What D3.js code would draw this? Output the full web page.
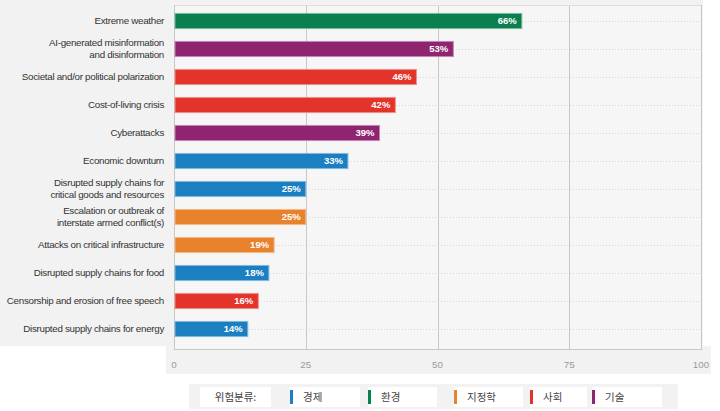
<!DOCTYPE html>
<html>
<head>
<meta charset="utf-8">
<script src="https://cdn.jsdelivr.net/npm/d3@7/dist/d3.min.js"></script>
<style>
  html, body { margin: 0; padding: 0; background: #ffffff; }
  svg { display: block; }
</style>
</head>
<body>
<svg id="chart" width="720" height="411"></svg>
<script>
// ---- data ----
const categories = [
  "Extreme weather",
  "AI-generated misinformation\nand disinformation",
  "Societal and/or political polarization",
  "Cost-of-living crisis",
  "Cyberattacks",
  "Economic downturn",
  "Disrupted supply chains for\ncritical goods and resources",
  "Escalation or outbreak of\ninterstate armed conflict(s)",
  "Attacks on critical infrastructure",
  "Disrupted supply chains for food",
  "Censorship and erosion of free speech",
  "Disrupted supply chains for energy"
];
const values = [66, 53, 46, 42, 39, 33, 25, 25, 19, 18, 16, 14];
const groups = ["환경", "기술", "사회", "사회", "기술", "경제", "경제", "지정학", "지정학", "경제", "사회", "경제"];
const legendTitle = "위험분류:";
const legendLabels = ["경제", "환경", "지정학", "사회", "기술"];
const tickValues = [0, 25, 50, 75, 100];

// ---- styles ----
const groupColors = {
  "경제": "#1b7fc1",
  "환경": "#0b7f4f",
  "지정학": "#e8822d",
  "사회": "#e3342b",
  "기술": "#8f2470"
};
const latinFont = "'Liberation Sans', Arial, Helvetica, sans-serif";
const cjkFont = "'Noto Sans CJK KR', 'Liberation Sans', sans-serif";

const svg = d3.select("#chart");

// backgrounds
svg.append("rect").attr("x", 0).attr("y", 0).attr("width", 703).attr("height", 346).attr("fill", "#f2f2f2");
svg.append("rect").attr("x", 166).attr("y", 346).attr("width", 545).attr("height", 28).attr("fill", "#f2f2f2");

const plot = { left: 174, right: 701, top: 5, bottom: 350 };

const x = d3.scaleLinear().domain([0, 100]).range([plot.left, plot.right]);
const y = d3.scaleBand().domain(d3.range(categories.length)).range([7, 343]).paddingInner(0.46).paddingOuter(0.23);

// plot interior
svg.append("rect")
  .attr("x", plot.left).attr("y", plot.top)
  .attr("width", plot.right - plot.left).attr("height", plot.bottom - plot.top)
  .attr("fill", "#f6f6f6");

// dotted horizontal guides
svg.append("g").selectAll("line")
  .data(d3.range(categories.length))
  .join("line")
  .attr("x1", plot.left).attr("x2", plot.right)
  .attr("y1", i => y(i) + y.bandwidth() / 2 + 0.5)
  .attr("y2", i => y(i) + y.bandwidth() / 2 + 0.5)
  .attr("stroke", "#d6d6d6").attr("stroke-width", 1).attr("stroke-dasharray", "1,2");

// vertical grid lines
svg.append("g").selectAll("line")
  .data(tickValues.slice(1))
  .join("line")
  .attr("x1", d => Math.round(x(d)) + 0.5).attr("x2", d => Math.round(x(d)) + 0.5)
  .attr("y1", plot.top).attr("y2", plot.bottom)
  .attr("stroke", "#c8c8c8").attr("stroke-width", 1);

// frame: top, left and bottom
svg.append("line").attr("x1", plot.left).attr("x2", plot.right).attr("y1", plot.top + 0.5).attr("y2", plot.top + 0.5).attr("stroke", "#dedede");
svg.append("line").attr("x1", plot.left + 0.5).attr("x2", plot.left + 0.5).attr("y1", plot.top).attr("y2", plot.bottom).attr("stroke", "#c8c8c8");
svg.append("line").attr("x1", plot.left).attr("x2", plot.right + 1).attr("y1", plot.bottom - 0.5).attr("y2", plot.bottom - 0.5).attr("stroke", "#c8c8c8");

// bars
svg.append("g").selectAll("rect")
  .data(values)
  .join("rect")
  .attr("x", x(0) + 1)
  .attr("y", (d, i) => y(i))
  .attr("width", d => x(d) - x(0) - 1)
  .attr("height", y.bandwidth())
  .attr("fill", (d, i) => groupColors[groups[i]])
  .attr("stroke", (d, i) => d3.interpolateRgb(groupColors[groups[i]], "#ffffff")(0.45))
  .attr("stroke-width", 1);

// value labels
svg.append("g").selectAll("text")
  .data(values)
  .join("text")
  .attr("x", d => x(d) - 5)
  .attr("y", (d, i) => y(i) + y.bandwidth() / 2)
  .attr("dy", "0.35em")
  .attr("text-anchor", "end")
  .attr("font-family", latinFont)
  .attr("font-weight", "bold")
  .attr("font-size", "9.5px")
  .attr("fill", "#ffffff")
  .text(d => d + "%");

// category labels
const lab = svg.append("g").selectAll("text")
  .data(categories)
  .join("text")
  .attr("text-anchor", "end")
  .attr("font-family", latinFont)
  .attr("font-size", "9.8px")
  .attr("letter-spacing", "-0.3px")
  .attr("fill", "#333333");
lab.each(function(d, i) {
  const lines = d.split("\n");
  const cy = y(i) + y.bandwidth() / 2;
  const lh = 12;
  const t = d3.select(this);
  lines.forEach((ln, k) => {
    t.append("tspan")
      .attr("x", 164)
      .attr("y", cy + (k - (lines.length - 1) / 2) * lh)
      .attr("dy", "0.35em")
      .text(ln);
  });
});

// x axis tick labels
svg.append("g").selectAll("text")
  .data(tickValues)
  .join("text")
  .attr("x", d => x(d))
  .attr("y", 365)
  .attr("dy", "0.35em")
  .attr("text-anchor", "middle")
  .attr("font-family", latinFont)
  .attr("font-size", "9.8px")
  .attr("fill", "#9a9a9a")
  .text(d => d);

// legend
const legendLayout = [
  { x: 290, w: 70 }, { x: 368, w: 69 }, { x: 454, w: 69 }, { x: 530, w: 57 }, { x: 592, w: 70 }
];
svg.append("rect").attr("x", 189).attr("y", 384).attr("width", 489).attr("height", 25).attr("fill", "#f2f2f2");
svg.append("rect").attr("x", 200).attr("y", 387).attr("width", 71).attr("height", 20).attr("fill", "#ffffff");
svg.append("text")
  .attr("x", 235.5).attr("y", 397).attr("dy", "0.35em")
  .attr("text-anchor", "middle")
  .attr("font-family", cjkFont).attr("font-size", "10.5px").attr("fill", "#444444")
  .text(legendTitle);

const li = svg.append("g").selectAll("g")
  .data(legendLabels)
  .join("g")
  .attr("transform", (d, i) => `translate(${legendLayout[i].x},387)`);
li.append("rect").attr("x", 0).attr("y", 0).attr("width", (d, i) => legendLayout[i].w).attr("height", 20).attr("fill", "#ffffff");
li.append("rect").attr("x", 0).attr("y", 3).attr("width", 3).attr("height", 14).attr("fill", d => groupColors[d]);
li.append("text")
  .attr("x", 13).attr("y", 10).attr("dy", "0.35em")
  .attr("font-family", cjkFont).attr("font-size", "10.5px").attr("fill", "#444444")
  .text(d => d);
</script>
</body>
</html>
